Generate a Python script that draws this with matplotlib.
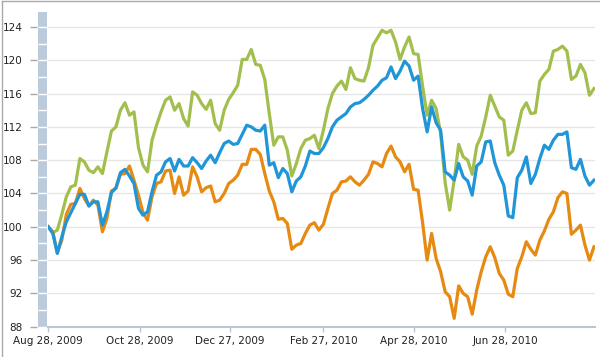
import matplotlib
matplotlib.use('Agg')
import matplotlib.pyplot as plt
from matplotlib.patches import Rectangle
from matplotlib.lines import Line2D
import numpy as np
import pandas as pd

# one sample every 3 days, Aug 28 2009 .. Aug 26 2010
dates = pd.date_range('2009-08-28', periods=122, freq='3D')

green = [100.0, 99.3, 99.6, 101.5, 103.6, 104.8, 105.0, 108.2, 107.8, 106.8, 106.5,
         107.2, 106.4, 109.0, 111.5, 112.0, 114.0, 114.9, 113.4, 113.8, 109.5,
         107.4, 106.6, 110.4, 112.2, 113.8, 115.2, 115.6, 114.0, 114.8, 113.0,
         112.1, 116.2, 115.8, 114.8, 114.1, 115.2, 112.4, 111.6, 114.0, 115.3,
         116.1, 117.0, 120.1, 120.1, 121.3, 119.5, 119.4, 117.7, 113.6, 109.8,
         110.8, 110.8, 109.2, 106.1, 107.6, 109.4, 110.4, 110.6, 111.0, 109.4,
         111.6, 114.2, 116.0, 116.9, 117.5, 116.5, 119.1, 117.8, 117.6, 117.5,
         119.1, 121.8, 122.7, 123.6, 123.3, 123.6, 122.2, 120.1, 121.6, 122.8,
         120.8, 120.7, 116.9, 113.4, 115.2, 114.2, 111.2, 105.3, 102.0, 105.6,
         109.9, 108.4, 108.0, 106.3, 109.7, 110.9, 113.2, 115.8, 114.5, 113.2,
         112.8, 108.6, 109.1, 111.6, 114.0, 114.9, 113.6, 113.7, 117.5, 118.3,
         118.9, 121.1, 121.3, 121.7, 121.1, 117.7, 118.1, 119.5, 118.5, 115.8, 116.6]

blue = [100.0, 99.2, 96.8, 98.8, 100.6, 101.7, 102.8, 103.9, 103.9, 102.5, 103.0,
        103.0, 100.2, 101.8, 104.1, 104.7, 106.5, 106.9, 106.1, 105.2, 102.2,
        101.4, 101.8, 104.2, 106.2, 106.6, 107.8, 108.2, 106.7, 108.1, 107.3,
        107.3, 108.3, 107.7, 107.0, 107.9, 108.6, 107.7, 108.9, 110.0, 110.3,
        109.9, 110.0, 111.1, 112.2, 112.0, 111.6, 111.5, 112.2, 107.4, 107.7,
        105.9, 107.0, 106.4, 104.2, 105.5, 106.0, 107.3, 109.1, 108.8, 108.8,
        109.5, 110.6, 112.0, 112.8, 113.2, 113.6, 114.4, 114.8, 114.9, 115.3,
        115.8, 116.4, 116.9, 117.6, 117.9, 119.2, 117.8, 118.7, 119.9, 119.3,
        117.6, 118.1, 114.2, 111.4, 114.4, 112.5, 111.6, 106.6, 106.2, 105.6,
        107.6, 106.0, 105.5, 103.8, 107.3, 107.8, 110.2, 110.3, 107.7, 106.2,
        105.0, 101.3, 101.1, 105.9, 106.8, 108.4, 105.2, 106.3, 108.2, 109.8,
        109.3, 110.4, 111.1, 111.1, 111.4, 107.1, 106.9, 108.1, 106.1, 105.0, 105.6]

orange = [100.0, 99.4, 96.9, 98.4, 101.5, 102.7, 102.8, 104.6, 103.4, 102.5, 103.2,
          102.6, 99.4, 101.0, 104.3, 104.6, 106.3, 106.4, 107.3, 105.6, 103.8,
          101.7, 100.8, 103.6, 105.2, 105.4, 106.7, 106.8, 104.0, 106.0, 103.8,
          104.3, 107.2, 106.0, 104.2, 104.7, 104.9, 103.0, 103.2, 104.0, 105.2,
          105.6, 106.2, 107.5, 107.5, 109.3, 109.3, 108.7, 106.4, 104.3, 103.0,
          100.9, 101.0, 100.4, 97.3, 97.8, 98.0, 99.2, 100.2, 100.5, 99.6,
          100.3, 102.2, 104.0, 104.4, 105.4, 105.5, 106.0, 105.4, 105.0, 105.6,
          106.3, 107.8, 107.6, 107.2, 108.8, 109.7, 108.4, 107.8, 106.6, 107.5,
          104.5, 104.4, 100.5, 96.0, 99.2, 96.2, 94.6, 92.2, 91.6, 89.0,
          92.9, 92.0, 91.6, 89.5, 92.4, 94.6, 96.4, 97.6, 96.3, 94.4,
          93.6, 91.9, 91.6, 95.0, 96.4, 98.2, 97.3, 96.6, 98.4, 99.5,
          100.9, 101.8, 103.5, 104.2, 104.0, 99.1, 99.6, 100.2, 97.8, 96.0, 97.6]

tick_dates = pd.to_datetime(['2009-08-28', '2009-10-28', '2009-12-27',
                             '2010-02-27', '2010-04-28', '2010-06-28'])
tick_labels = ['Aug 28, 2009', 'Oct 28, 2009', 'Dec 27, 2009',
               'Feb 27, 2010', 'Apr 28, 2010', 'Jun 28, 2010']
y_ticks = [88, 92, 96, 100, 104, 108, 112, 116, 120, 124]

fig = plt.figure(figsize=(6, 3.57), dpi=100)
ax = fig.add_axes([0.0805, 0.0849, 0.9107, 0.8815])

ax.plot(dates, green, color='#a2bf4e', lw=2.3, solid_joinstyle='round')
ax.plot(dates, orange, color='#e68a12', lw=2.3, solid_joinstyle='round')
ax.plot(dates, blue, color='#2095d8', lw=2.3, solid_joinstyle='round')

start = pd.Timestamp('2009-08-28')
ax.set_xlim(start, start + pd.Timedelta(days=363.5))
ax.set_ylim(88, 125.8)

ax.set_yticks(y_ticks)
ax.set_xticks(tick_dates)
ax.set_xticklabels(tick_labels)
ax.yaxis.grid(True, color='#e6e6e6', lw=1)
ax.set_axisbelow(True)

for s in ['top', 'right']:
    ax.spines[s].set_visible(False)
ax.spines['left'].set_position(('outward', 8))
ax.spines['left'].set_visible(False)
ax.spines['bottom'].set_color('#b8c7d6')
ax.spines['bottom'].set_linewidth(1.5)

ax.tick_params(axis='y', length=5, width=1, color='#a8a8a8', pad=5.5,
               labelsize=7.5, labelcolor='#222222')
ax.tick_params(axis='x', length=3.6, width=1, color='#b8c7d6', pad=3,
               labelsize=7.5, labelcolor='#222222')

# shaded bar next to the value axis
ax.add_patch(Rectangle((-0.0189, 0), 0.0165, 1, transform=ax.transAxes,
                       facecolor='#bccbdb', edgecolor='none', clip_on=False))
ax.hlines(np.arange(88, 125, 2), -0.0189, -0.0024, transform=ax.get_yaxis_transform(),
          colors='white', lw=1, clip_on=False)

# outer frame (top and left edges)
fig.add_artist(Line2D([0.004, 0.004], [0, 0.997], color='#aaaaaa', lw=1))
fig.add_artist(Line2D([0.004, 1], [0.997, 0.997], color='#aaaaaa', lw=1))

fig.savefig('out.png', dpi=100)
